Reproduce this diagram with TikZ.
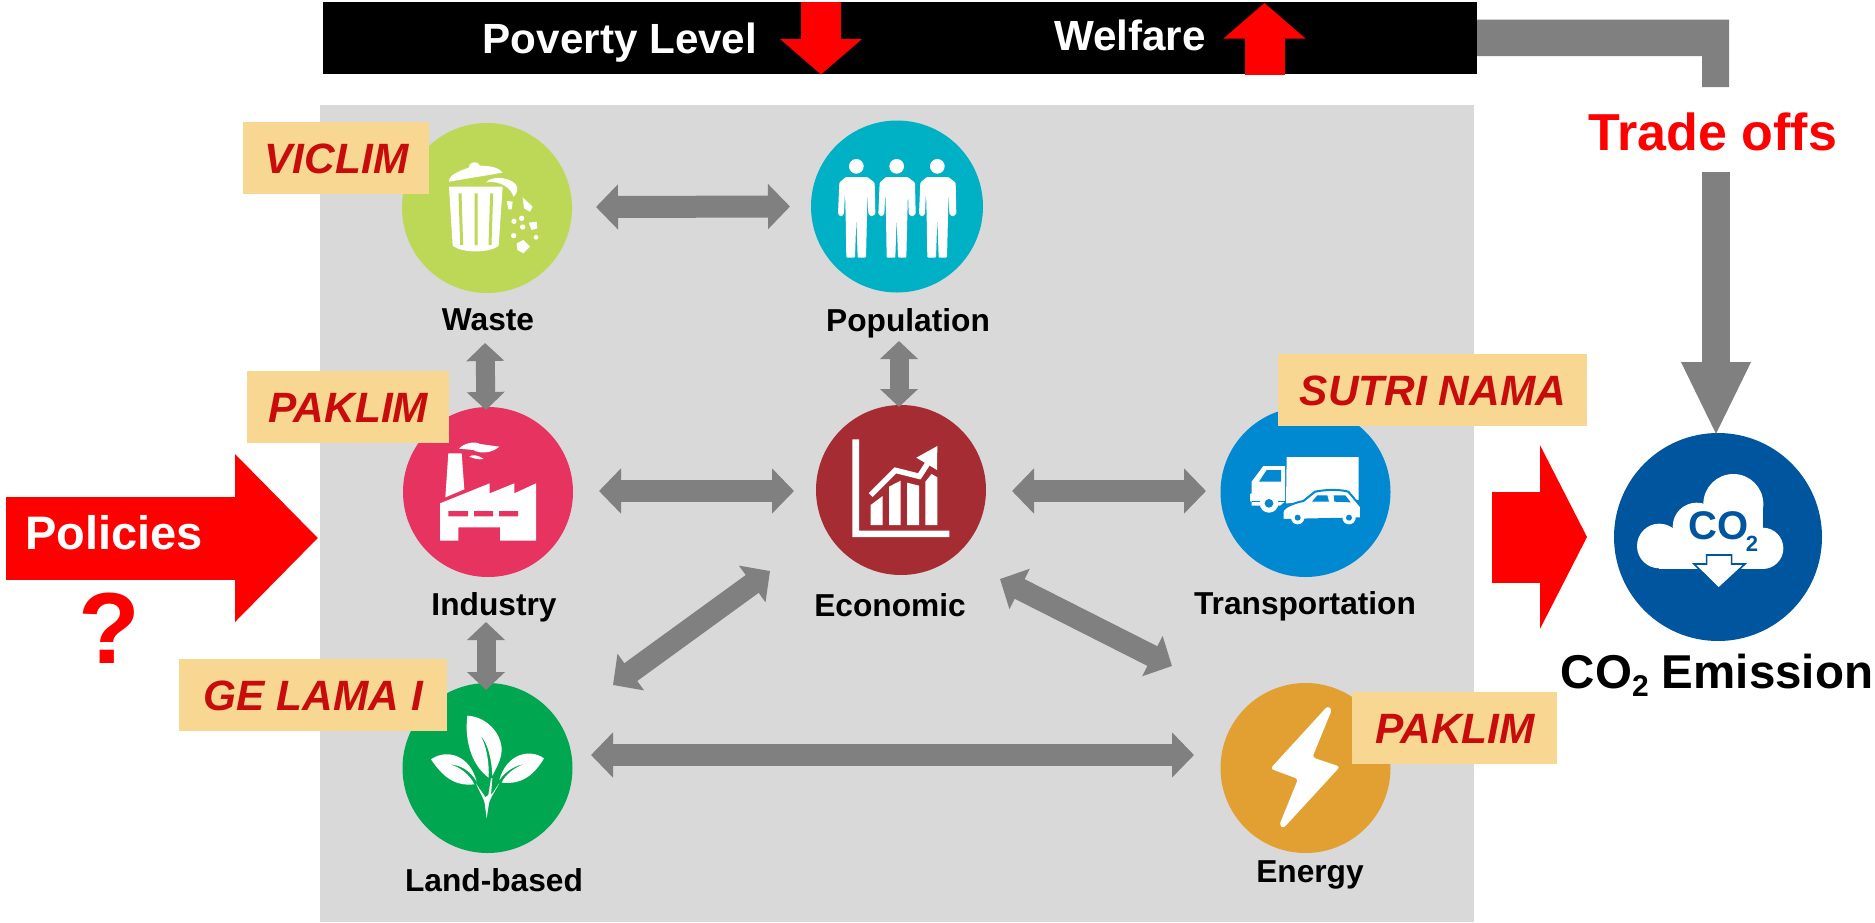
\documentclass[tikz,border=0pt]{standalone}
\usepackage{fontspec}
\setmainfont{Liberation Sans}
\usetikzlibrary{arrows.meta}
\definecolor{bggray}{HTML}{D9D9D9}
\definecolor{arrgray}{HTML}{808080}
\definecolor{tagfill}{HTML}{F8D792}
\definecolor{tagtext}{HTML}{C80C0C}
\definecolor{cwaste}{HTML}{BCD856}
\definecolor{cpop}{HTML}{00B0C4}
\definecolor{cind}{HTML}{E6335F}
\definecolor{ceco}{HTML}{A42C32}
\definecolor{ctrans}{HTML}{0088D0}
\definecolor{cland}{HTML}{00A650}
\definecolor{cener}{HTML}{E2A032}
\definecolor{cco}{HTML}{00559F}
\newcommand{\fsz}[1]{\fontsize{#1pt}{#1pt}\selectfont\bfseries}
\tikzset{
  disc/.style={circle,inner sep=0pt,outer sep=0pt,minimum size=#1},
  lbl/.style={anchor=base,inner sep=0pt,outer sep=0pt,font=\fsz{31.7}},
  tag/.style={fill=tagfill,inner sep=0pt,outer sep=0pt,text=tagtext,font=\fsz{42.4}\itshape,text height=30pt,text depth=0pt,align=center},
  wide/.style={draw=arrgray,line width=22pt,{Triangle[length=22pt,width=44pt]}-{Triangle[length=22pt,width=44pt]}},
  tall/.style={draw=arrgray,line width=19pt,{Triangle[length=18pt,width=37pt]}-{Triangle[length=18pt,width=37pt]}},
  redarrow/.style={draw=red,line width=83pt,-{Triangle[length=83pt,width=163pt]}},
  redbar/.style={draw=red,line width=40pt,-{Triangle[length=35.5pt,width=80pt]}},
  icon/.style={shift={#1},scale=1/3},
}
\begin{document}
\begin{tikzpicture}[x=1pt,y=-1pt]
\useasboundingbox (0,0) rectangle (1875,922);
% panels
\fill[bggray] (320,105) rectangle (1474,922);
\node[fill=black,inner sep=0pt,outer sep=0pt,minimum width=1154pt,minimum height=72pt] (bar) at (900,38) {};
% discs
\node[disc=170pt,fill=cwaste] (waste) at (487,208) {};
\node[disc=172pt,fill=cpop] (population) at (897,206.5) {};
\node[disc=170pt,fill=cind] (industry) at (488,492) {};
\node[disc=170pt,fill=ceco] (economic) at (901,490) {};
\node[disc=170pt,fill=ctrans] (transport) at (1305.5,492) {};
\node[disc=170pt,fill=cland] (land) at (487.5,768) {};
\node[disc=170pt,fill=cener] (energy) at (1305.5,768) {};
\node[disc=208pt,fill=cco] (co2) at (1718,537) {};
% double arrows
\draw[wide] ([shift={(109,-1)}]waste.center) -- ([shift={(-107,0)}]population.center);
\draw[wide] ([shift={(111,-1)}]industry.center) -- ([shift={(-107,1)}]economic.center);
\draw[wide] ([shift={(111,1)}]economic.center) -- ([shift={(-99.5,-1)}]transport.center);
\draw[wide] ([shift={(103.5,-13)}]land.center) -- ([shift={(-111.5,-13)}]energy.center);
\draw[wide] ([shift={(-131,81)}]economic.center) -- ([shift={(125.5,-83)}]land.center);
\draw[wide] ([shift={(99,89)}]economic.center) -- ([shift={(-133.5,-102)}]energy.center);
\draw[tall] ([shift={(-2,135)}]waste.center) -- ([shift={(-2,-82)}]industry.center);
\draw[tall] ([shift={(2,134.5)}]population.center) -- ([shift={(-2,-83)}]economic.center);
\draw[tall] ([shift={(-2,130)}]industry.center) -- ([shift={(-1.5,-78)}]land.center);
% red arrows
\coordinate (polstart) at (6,538);
\coordinate (polend) at (318,538);
\draw[redarrow] (polstart) -- (polend);
\draw[redarrow,line width=91pt,-{Triangle[length=47pt,width=182pt]}] ([shift={(-226,0)}]co2.center) -- ([shift={(-131,0)}]co2.center);
\coordinate (dnA) at (821,2);
\coordinate (dnB) at (821,74.5);
\coordinate (upA) at (1264.5,75);
\coordinate (upB) at (1264.5,3);
\draw[redbar] (dnA) -- (dnB);
\draw[redbar] (upA) -- (upB);
% labels
\node[lbl,font=\fsz{42.2},text=white] (poverty) at (620,53) {Poverty Level};
\node[lbl,font=\fsz{42.2},text=white] (welfare) at (1130,50) {Welfare};
\node[lbl] (lwaste) at (488,330) {Waste};
\node[lbl] (lpop) at (908,331) {Population};
\node[lbl] (lind) at (494,615) {Industry};
\node[lbl] (leco) at (890,616) {Economic};
\node[lbl] (ltrans) at (1305,614) {Transportation};
\node[lbl] (lland) at (494,891) {Land-based};
\node[lbl] (lener) at (1310,882) {Energy};
\node[lbl,font=\fsz{52},text=red] (tradeoffs) at (1713,150) {Trade offs};
\node[lbl,font=\fsz{47},text=white] (policies) at (114,549) {Policies};
\node[lbl,font=\fsz{101},text=red] (question) at (109,663) {?};
\node[lbl,font=\fsz{47.5}] (co2label) at (1717,688) {CO\raisebox{-0.18em}{\fsz{30}2} Emission};
% trade-off connectors
\fill[arrgray] ([yshift=18.5pt]bar.east) -- (1729,19.5) -- (1729,87) -- (1702,87) -- (1702,56) -- ([yshift=-18pt]bar.east) -- cycle;
\draw[draw=arrgray,line width=28pt,-{Triangle[length=74pt,width=64pt]}] ([shift={(3,22)}]tradeoffs.base) -- ([shift={(-2,3)}]co2.north);
% waste icon
\begin{scope}[icon={(230,100)}]
\fill[white] (657,245) .. controls (655,225) and (690,212) .. (716,203) .. controls (715,185) and (745,180) .. (750,197) .. controls (785,197) and (810,205) .. (818,218) -- cycle;
\fill[white] (657,260) -- (818,260) -- (806,437) .. controls (780,460) and (695,460) .. (668,437) -- cycle;
\draw[cwaste,line width=3pt] (690,280) -- (695,435) (738,280) -- (738,435) (785,280) -- (780,435);
\fill[white] (768,247) .. controls (790,222) and (855,235) .. (862,262) .. controls (862,275) and (858,285) .. (850,290) .. controls (845,265) and (810,240) .. (768,247) -- cycle;
\fill[white] (878,292) -- (908,320) -- (900,335) -- (882,325) -- cycle;
\fill[white] (830,303) -- (848,305) -- (845,328) -- (835,328) -- cycle;
\fill[white] (896,368) -- (920,365) -- (922,385) -- (905,390) -- cycle;
\fill[white] (860,430) -- (880,420) -- (900,440) -- (880,460) -- (862,450) -- cycle;
\fill[white] (852,364) circle[radius=8] (875,355) circle[radius=8] (878,381) circle[radius=8] (851,407) circle[radius=8] (918,412) circle[radius=7];
\end{scope}
% population icon
\begin{scope}[icon={(780,100)}]
\foreach \dx in {0,121,243}{
\begin{scope}[xshift=\dx*1pt]
\fill[white] (229,199) circle[radius=22];
\fill[white,rounded corners=1pt] (197,231) -- (262,231) -- (284,248) -- (286,342) -- (275,350) -- (265,342) -- (263,272) -- (261,350) -- (258,473) -- (233,473) -- (229,352) -- (225,473) -- (199,473) -- (197,350) -- (195,272) -- (192,342) -- (183,350) -- (174,342) -- (178,248) -- cycle;
\end{scope}}
\end{scope}
% industry icon
\begin{scope}[icon={(380,390)}]
\fill[white] (205,190) -- (245,190) -- (253,298) -- (196,322) -- cycle;
\fill[white] (180,340) -- (329,280) -- (329,310) -- (403,280) -- (403,310) -- (468,280) -- (468,452) -- (360,452) -- (360,412) -- (235,412) -- (235,452) -- (180,452) -- cycle;
\fill[cind] (205,363) rectangle (264,379) (282,363) rectangle (339,379) (357,363) rectangle (414,379);
\fill[white] (237,176) .. controls (250,160) and (285,152) .. (300,162) -- (358,170) .. controls (335,190) and (300,192) .. (280,180) -- cycle;
\fill[white] (268,200) .. controls (275,192) and (295,195) .. (311,207) .. controls (295,210) and (280,205) .. (268,200) -- cycle;
\end{scope}
% economic icon
\begin{scope}[icon={(790,390)}]
\fill[white] (187,148) -- (207,148) -- (207,422) -- (478,422) -- (478,441) -- (187,441) -- cycle;
\fill[white] (242,405) -- (242,345) -- (278,318) -- (278,405) -- cycle;
\fill[white] (297,405) -- (297,290) -- (332,272) -- (332,405) -- cycle;
\fill[white] (351,405) -- (351,278) -- (387,287) -- (387,405) -- cycle;
\fill[white] (406,405) -- (406,275) -- (425,252) -- (442,262) -- (442,405) -- cycle;
\draw[white,line width=5.5pt] (242,315) -- (316,241) -- (388,259) -- (412,222);
\fill[white] (379,203) -- (442,168) -- (441,240) -- cycle;
\end{scope}
% transport icon
\begin{scope}[icon={(1200,390)}]
\fill[white] (260,201) -- (476,201) -- (476,330) -- (258,340) -- cycle;
\fill[white] (155,275) -- (190,228) -- (255,228) -- (255,335) -- (240,347) -- (155,347) -- (155,334) -- (150,334) -- (150,312) -- (155,310) -- cycle;
\fill[ctrans] (177,275) -- (200,240) -- (243,240) -- (243,275) -- cycle;
\draw[ctrans,line width=0.8pt] (155,333) -- (255,333);
\fill[white] (207,340) circle[radius=28];
\fill[ctrans] (207,340) circle[radius=13];
\draw[ctrans,line width=2pt,fill=white] (248,365) .. controls (250,350) and (285,338) .. (310,333) -- (345,305) .. controls (380,298) and (420,298) .. (445,305) -- (483,350) -- (483,385) -- (248,390) -- cycle;
\fill[ctrans] (336,335) -- (352,316) -- (382,316) -- (387,335) -- cycle;
\fill[ctrans] (401,316) -- (436,316) -- (452,337) -- (403,335) -- cycle;
\fill[white] (293,383) circle[radius=20] (447,383) circle[radius=20];
\fill[ctrans] (293,383) circle[radius=9] (447,383) circle[radius=9];
\end{scope}
% land icon
\begin{scope}[icon={(390,670)}]
\fill[white] (232,137) .. controls (290,140) and (335,190) .. (335,240) .. controls (335,270) and (315,300) .. (307,318) .. controls (305,270) and (295,220) .. (270,195) .. controls (290,225) and (298,280) .. (296,323) .. controls (250,290) and (222,220) .. (232,137) -- cycle;
\fill[white] (123,268) .. controls (170,235) and (240,255) .. (260,335) .. controls (240,300) and (210,285) .. (178,283) .. controls (210,290) and (240,315) .. (253,343) .. controls (190,350) and (155,315) .. (123,268) -- cycle;
\fill[white] (462,265) .. controls (420,235) and (350,250) .. (328,330) .. controls (350,300) and (380,285) .. (405,282) .. controls (375,290) and (345,315) .. (335,338) .. controls (400,345) and (435,310) .. (462,265) -- cycle;
\fill[white] (258,340) .. controls (270,360) and (280,370) .. (286,382) -- (295,375) -- (303,325) -- (307,325) -- (303,375) .. controls (312,365) and (320,350) .. (328,340) .. controls (320,355) and (300,385) .. (297,400) -- (290,445) -- (284,400) .. controls (282,385) and (265,360) .. (258,340) -- cycle;
\end{scope}
% energy icon
\begin{scope}[icon={(1200,670)}]
\fill[white,rounded corners=3pt] (383,108) -- (396,118) -- (337,262) -- (420,290) -- (250,475) -- (238,465) -- (294,327) -- (211,296) -- cycle;
\end{scope}
% CO2 icon
\begin{scope}[icon={(1600,420)}]
\fill[white] (178,378) circle[radius=67];
\fill[white] (488,385) circle[radius=62];
\fill[white] (400,252) circle[radius=90];
\fill[white] (290,320) circle[radius=72];
\fill[white] (178,340) rectangle (490,446);
\fill[white] (400,252) rectangle (490,340);
\node[inner sep=0pt,font=\fsz{40},text=cco] (co2txt) at (355,316) {CO};
\node[inner sep=0pt,font=\fsz{22},text=cco] (co2sub) at (456,372) {2};
\draw[cco,line width=1.6pt,fill=white] (320,405) -- (320,432) -- (282,432) -- (356,505) -- (435,432) -- (395,432) -- (395,405) -- cycle;
\end{scope}
% tags
\node[tag,minimum width=186pt,minimum height=72pt] (viclim) at (336,158) {\hspace*{1pt}VICLIM};
\node[tag,minimum width=202pt,minimum height=72pt] (paklima) at (348,407) {\hspace*{1pt}PAKLIM};
\node[tag,minimum width=268pt,minimum height=72pt] (gelama) at (313,695) {\hspace*{1pt}GE LAMA I};
\node[tag,minimum width=309pt,minimum height=72pt] (sutri) at (1432.5,390) {\hspace*{1pt}SUTRI NAMA};
\node[tag,minimum width=205pt,minimum height=72pt] (paklimb) at (1454.5,728) {\hspace*{1pt}PAKLIM};
\end{tikzpicture}
\end{document}
